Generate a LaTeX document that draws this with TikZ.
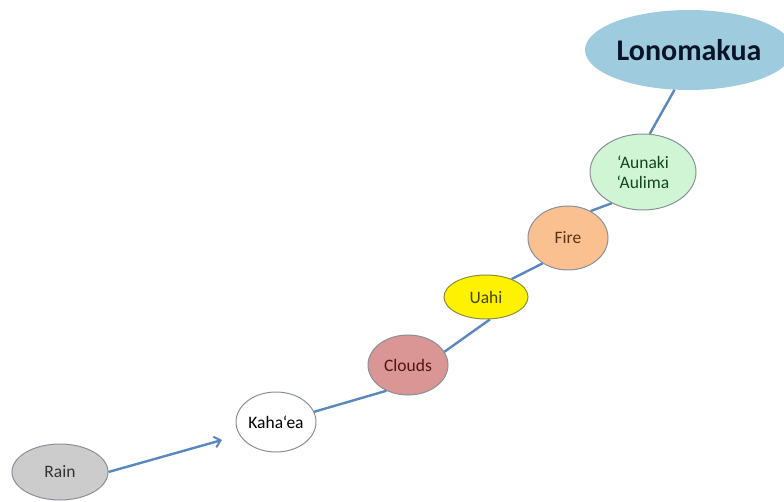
\documentclass[tikz,border=0pt]{standalone}
\usepackage{fontspec}
\setmainfont{Carlito}
\usetikzlibrary{shapes.geometric,arrows.meta}
\definecolor{linkblue}{HTML}{5A88BE}
\definecolor{rimgray}{HTML}{8A8F99}
\tikzset{
  bubble/.style={ellipse, draw=rimgray, line width=1pt, inner sep=0pt, font=\fontsize{17.5}{20}\selectfont, align=center},
  link/.style={draw=linkblue, line width=2.4pt},
}
\begin{document}
\begin{tikzpicture}[x=1pt,y=-1pt]
\useasboundingbox (0,0) rectangle (784,502);
\node[bubble, fill=gray!40, minimum width=96pt, minimum height=56pt, text=black!80] (rain) at (60,472) {Rain};
\node[bubble, fill=white, minimum width=80pt, minimum height=60pt] (kahaea) at (276,422) {Kaha‘ea};
\node[bubble, fill={rgb,255:red,217;green,150;blue,148}, minimum width=80pt, minimum height=60pt, text={rgb,255:red,80;green,20;blue,20}] (clouds) at (408,365) {Clouds};
\node[bubble, fill=yellow, draw={rgb,255:red,140;green,140;blue,60}, minimum width=84pt, minimum height=44pt, text={rgb,255:red,70;green,70;blue,10}] (uahi) at (486,297) {Uahi};
\node[bubble, fill={rgb,255:red,250;green,192;blue,144}, minimum width=80pt, minimum height=64pt, text={rgb,255:red,90;green,50;blue,20}] (fire) at (568,238) {Fire};
\node[bubble, fill={rgb,255:red,208;green,245;blue,212}, minimum width=106pt, minimum height=76pt, text={rgb,255:red,20;green,70;blue,30}] (aunaki) at (643,172) {‘Aunaki\\‘Aulima};
\node[ellipse, fill={rgb,255:red,158;green,204;blue,222}, inner sep=0pt, minimum width=208pt, minimum height=80pt, font=\fontsize{30}{33}\selectfont\bfseries, text={rgb,255:red,10;green,20;blue,40}] (lono) at (689,50) {Lonomakua};
\coordinate (arrowtip) at (222,440);
\draw[link, -{Straight Barb[length=6pt,width=11pt,line width=2pt]}] (rain.east) -- (arrowtip);
\draw[link] (kahaea.15) -- (clouds.230);
\draw[link] (clouds.20) -- (uahi.280);
\draw[link] (uahi.35) -- (fire.225);
\draw[link] (fire.50) -- (aunaki.225);
\draw[link] (aunaki.80) -- (lono.250);
\end{tikzpicture}
\end{document}
